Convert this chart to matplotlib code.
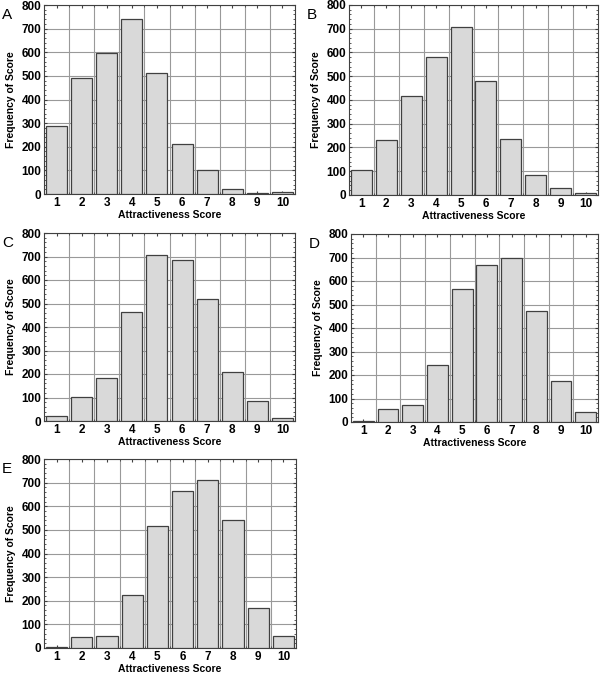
import numpy as np
import matplotlib.pyplot as plt
from matplotlib.ticker import MultipleLocator, FixedLocator

scores = np.arange(1, 11)
freq_a = [289, 492, 596, 741, 511, 210, 101, 21, 4, 10]
freq_b = [104, 232, 415, 582, 707, 479, 234, 84, 29, 7]
freq_c = [21, 102, 183, 464, 706, 685, 520, 207, 85, 13]
freq_d = [4, 54, 73, 243, 565, 668, 697, 471, 174, 44]
freq_e = [3, 48, 52, 224, 516, 664, 712, 542, 169, 51]
panel_labels = ['A', 'B', 'C', 'D', 'E']

W, H = 600, 674
fig = plt.figure(figsize=(W / 100, H / 100), dpi=100)
plt.rcParams['font.family'] = ['Liberation Sans', 'DejaVu Sans']

# axes boxes in pixels: left, top, right, bottom
boxes = [(44, 5, 295, 194), (349, 5, 598, 195), (44, 233, 295, 421),
         (351, 234, 598, 422), (44, 459, 296, 648)]
data = [freq_a, freq_b, freq_c, freq_d, freq_e]

for (l, t, r, b), freq, lab in zip(boxes, data, panel_labels):
    ax = fig.add_axes([l / W, 1 - b / H, (r - l) / W, (b - t) / H])
    ax.bar(scores, freq, width=0.84, color='#d9d9d9', edgecolor='#404040',
           linewidth=0.9, zorder=3)
    ax.set_xlim(0.5, 10.5)
    ax.set_ylim(0, 800)
    ax.set_xticks(scores)
    ax.set_yticks(np.arange(0, 801, 100))
    ax.yaxis.set_minor_locator(MultipleLocator(20))
    ax.xaxis.set_minor_locator(FixedLocator(np.arange(1.5, 10, 1)))
    ax.grid(True, which='major', axis='y', color='#999999', linewidth=0.8, zorder=0)
    ax.grid(True, which='minor', axis='x', color='#999999', linewidth=0.8, zorder=0)
    ax.tick_params(axis='x', which='minor', length=0)
    ax.tick_params(which='both', direction='in', top=True, right=True,
                   labelsize=8.5, pad=2, color='#404040')
    ax.tick_params(which='major', length=2.5)
    ax.tick_params(which='minor', length=1.5)
    for lbl in ax.get_xticklabels() + ax.get_yticklabels():
        lbl.set_fontweight('bold')
    for sp in ax.spines.values():
        sp.set_color('#404040')
        sp.set_linewidth(0.8)
    ax.set_xlabel('Attractiveness Score', fontsize=7.5, fontweight='bold', labelpad=1)
    ax.set_ylabel('Frequency of Score', fontsize=7.5, fontweight='bold', labelpad=4)
    fig.text((l - 42) / W, 1 - (t + 10) / H, lab, fontsize=11, ha='left', va='center')

fig.savefig('out.png', dpi=100)
